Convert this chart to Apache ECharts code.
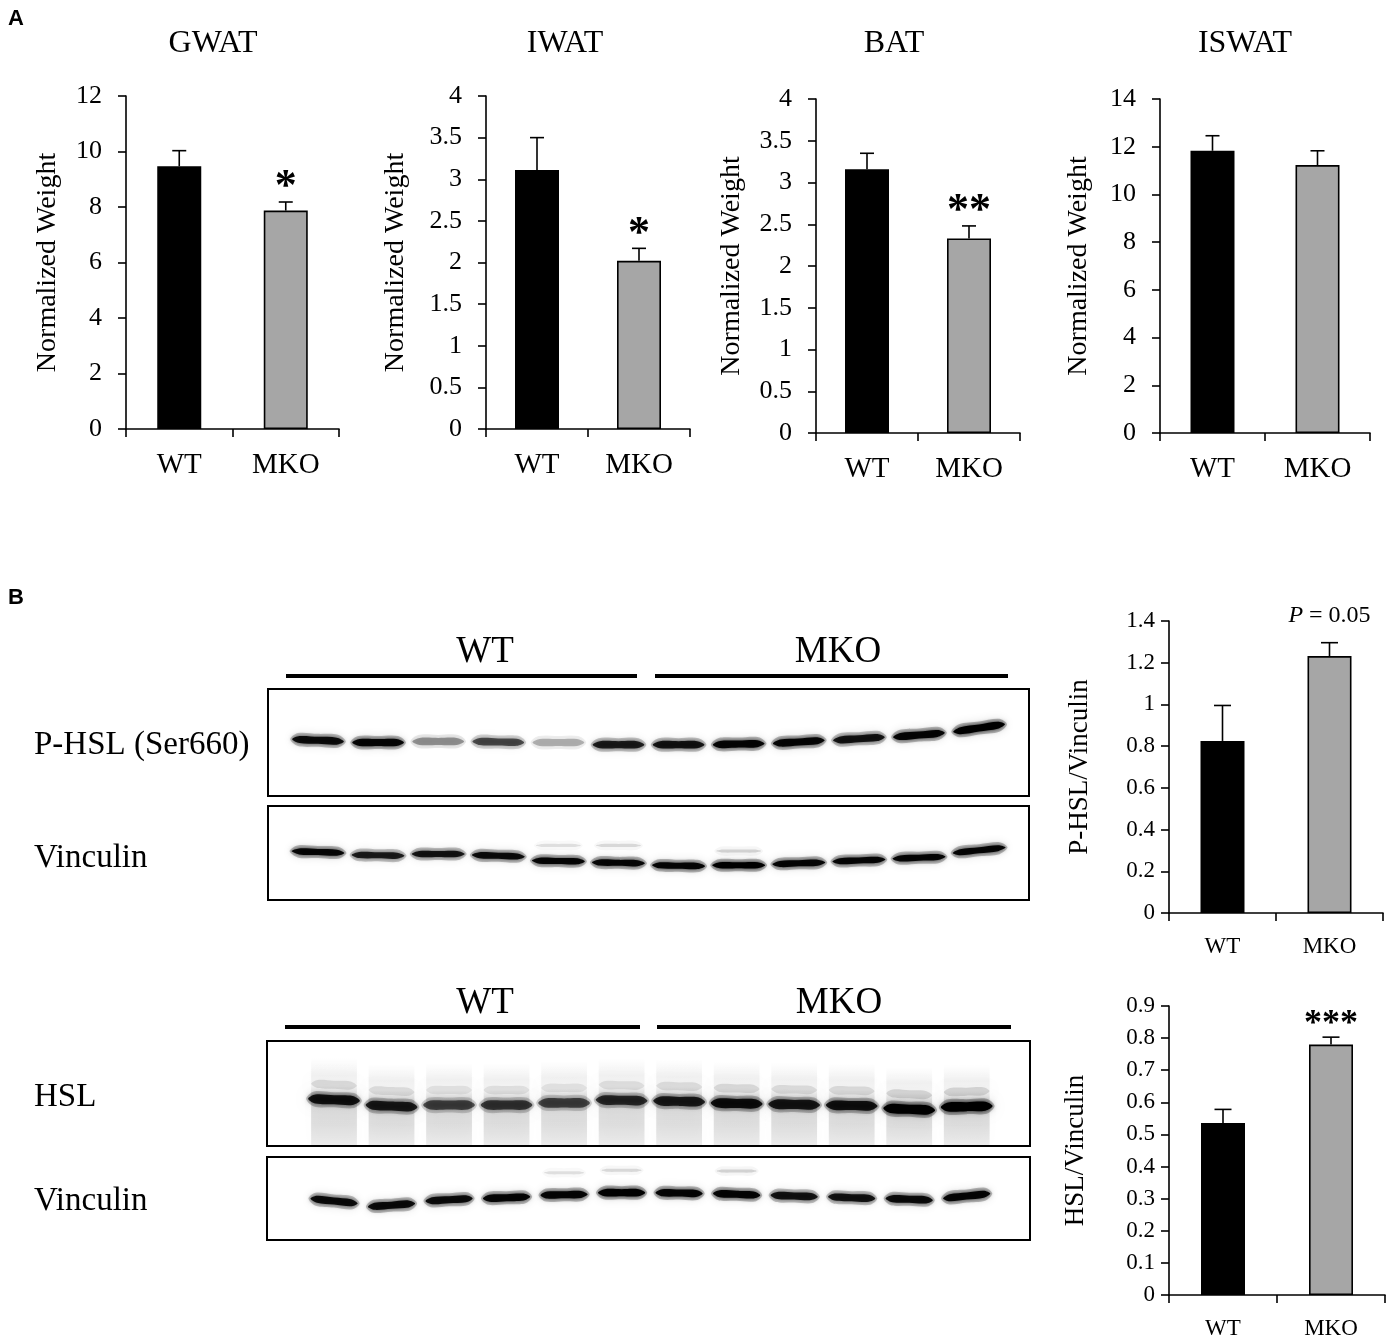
<!DOCTYPE html>
<html>
<head>
<meta charset="utf-8">
<title>Fat depot weights and HSL blots</title>
<script src="https://cdn.jsdelivr.net/npm/echarts@6/dist/echarts.min.js"></script>
<style>
  html, body { margin: 0; padding: 0; background: #fff; }
  #main { width: 1390px; height: 1340px; }
</style>
</head>
<body>
<div id="main"></div>
<script>
var groups = ['WT', 'MKO'];

// panel A: normalized depot weight, mean and mean + SEM
var gwatMean = [9.47, 7.87];
var gwatErr = [10.03, 8.18];
var gwatSig = ['', '*'];
var iwatMean = [3.11, 2.02];
var iwatErr = [3.50, 2.17];
var iwatSig = ['', '*'];
var batMean = [3.16, 2.33];
var batErr = [3.35, 2.48];
var batSig = ['', '**'];
var iswatMean = [11.83, 11.23];
var iswatErr = [12.46, 11.83];
var iswatSig = ['', ''];

// panel B: band quantification
var pHslMean = [0.825, 1.232];
var pHslErr = [0.995, 1.296];
var pHslSig = ['', '{i|P} = 0.05'];
var hslMean = [0.536, 0.78];
var hslErr = [0.578, 0.803];
var hslSig = ['', '***'];

// blots: 12 lanes, band position (% of strip height, left / right end) and darkness
var lanes = [1, 2, 3, 4, 5, 6, 7, 8, 9, 10, 11, 12];
var pHslDark = [0.9, 0.95, 0.35, 0.6, 0.25, 0.8, 0.85, 0.95, 0.95, 0.85, 0.95, 1.0];
var pHslLeft = [47, 50, 49, 49, 50, 52, 52, 52, 51, 48, 45, 40];
var pHslRight = [49, 50, 49, 50, 50, 52, 52, 51, 48, 45, 41, 33];

var vinc1Dark = [0.95, 0.8, 0.85, 0.9, 0.95, 0.95, 0.95, 1, 0.95, 0.95, 0.95, 0.95];
var vinc1Left = [48, 52, 51, 52, 58, 60, 63, 63, 62, 59, 56, 50];
var vinc1Right = [50, 53, 51, 54, 59, 61, 64, 63, 60, 57, 54, 44];
var vinc1FaintLane = [5, 6, 8];
var vinc1FaintPos = [42, 42, 48];
var vinc1FaintDark = [0.1, 0.12, 0.14];

var hslDark = [0.85, 0.8, 0.6, 0.65, 0.6, 0.72, 0.8, 0.88, 0.82, 0.85, 1, 1];
var hslLeft = [55, 61, 61, 61, 59, 56, 57, 59, 60, 61, 64, 63];
var hslRight = [57, 63, 61, 61, 59, 57, 58, 60, 61, 62, 66, 62];

var vinc2Dark = [0.9, 0.9, 0.9, 0.95, 0.95, 1, 0.95, 0.95, 0.85, 0.85, 0.9, 0.95];
var vinc2Left = [50, 60, 53, 50, 46, 43, 43, 44, 46, 48, 50, 50];
var vinc2Right = [56, 56, 50, 48, 45, 43, 44, 46, 48, 50, 52, 44];
var vinc2FaintLane = [5, 6, 8];
var vinc2FaintPos = [19, 16, 17];
var vinc2FaintDark = [0.1, 0.12, 0.14];

var serif = 'Liberation Serif';

var barPanels = [
  { mean: gwatMean, err: gwatErr, sig: gwatSig, max: 12, step: 2, box: [126, 96, 213, 333], name: 'Normalized Weight', gap: 64, big: true },
  { mean: iwatMean, err: iwatErr, sig: iwatSig, max: 4, step: 0.5, box: [486, 96, 204, 333], name: 'Normalized Weight', gap: 76, big: true },
  { mean: batMean, err: batErr, sig: batSig, max: 4, step: 0.5, box: [816, 99, 204, 334], name: 'Normalized Weight', gap: 70, big: true },
  { mean: iswatMean, err: iswatErr, sig: iswatSig, max: 14, step: 2, box: [1160, 99, 210, 334], name: 'Normalized Weight', gap: 67, big: true },
  { mean: pHslMean, err: pHslErr, sig: pHslSig, max: 1.4, step: 0.2, box: [1169, 621, 214, 292], name: 'P-HSL/Vinculin', gap: 76, big: false },
  { mean: hslMean, err: hslErr, sig: hslSig, max: 0.9, step: 0.1, box: [1169, 1006, 216, 294], name: 'HSL/Vinculin', gap: 80, big: false }
];

// blot strips: [left, top, width, height], x range of lane axis, band half width (lanes), thickness px
var strips = [
  { box: [268, 689, 761, 107], xr: [0.168, 12.83], dark: pHslDark, l: pHslLeft, r: pHslRight, half: 0.43, thick: 7 },
  { box: [268, 806, 761, 94], xr: [0.168, 12.83], dark: vinc1Dark, l: vinc1Left, r: vinc1Right, half: 0.44, thick: 6,
    faint: [vinc1FaintLane, vinc1FaintPos, vinc1FaintDark] },
  { box: [267, 1041, 763, 105], xr: [-0.165, 13.1], dark: hslDark, l: hslLeft, r: hslRight, half: 0.45, thick: 9, smear: true },
  { box: [267, 1157, 763, 83], xr: [-0.165, 13.1], dark: vinc2Dark, l: vinc2Left, r: vinc2Right, half: 0.41, thick: 7,
    faint: [vinc2FaintLane, vinc2FaintPos, vinc2FaintDark] }
];

function errorBars(sig, cap, big) {
  return function (params, api) {
    var x = api.value(0);
    var base = api.coord([x, api.value(1)]);
    var tip = api.coord([x, api.value(2)]);
    var kids = [
      { type: 'line', shape: { x1: base[0], y1: base[1], x2: tip[0], y2: tip[1] }, style: { stroke: '#000', lineWidth: 1.6 } },
      { type: 'line', shape: { x1: tip[0] - cap / 2, y1: tip[1], x2: tip[0] + cap / 2, y2: tip[1] }, style: { stroke: '#000', lineWidth: 1.6 } }
    ];
    var s = sig[params.dataIndex];
    if (s) {
      var isStar = s.indexOf('*') === 0;
      kids.push({
        type: 'text',
        x: tip[0],
        y: tip[1] - (isStar ? (big ? 14 : 12) : 27),
        style: {
          text: s,
          fill: '#000',
          fontFamily: serif,
          fontSize: isStar ? (big ? 44 : 36) : 24,
          fontWeight: isStar ? 'bold' : 'normal',
          align: 'center',
          verticalAlign: 'middle',
          rich: { i: { fontStyle: 'italic', fontFamily: serif, fontSize: 24 } }
        }
      });
    }
    return { type: 'group', children: kids };
  };
}

function lens(xl, yl, xr, yr, t) {
  var w = xr - xl, a = 0.14;
  var ya = yl + (yr - yl) * a, yb = yr - (yr - yl) * a;
  var xm = (xl + xr) / 2, ym = (yl + yr) / 2;
  return [[xl, yl], [xl + w * a, ya - t], [xm, ym - t], [xr - w * a, yb - t], [xr, yr],
          [xr - w * a, yb + t], [xm, ym + t], [xl + w * a, ya + t]];
}

function bands(half, thick, smear) {
  return function (params, api) {
    var lane = api.value(0);
    var k = api.value(3);
    var pl = api.coord([lane - half, api.value(1)]);
    var pr = api.coord([lane + half, api.value(2)]);
    var t = thick / 2;
    var kids = [];
    if (smear) {
      var bottom = api.coord([lane, 100])[1];
      var mid = (pl[1] + pr[1]) / 2;
      kids.push({
        type: 'rect',
        shape: { x: pl[0] + 3, y: mid - 42, width: pr[0] - pl[0] - 6, height: bottom - mid + 42 },
        style: {
          fill: new echarts.graphic.LinearGradient(0, 0, 0, 1, [
            { offset: 0, color: 'rgba(0,0,0,0)' },
            { offset: 0.2, color: 'rgba(0,0,0,0.05)' },
            { offset: 0.32, color: 'rgba(0,0,0,0.04)' },
            { offset: 0.45, color: 'rgba(0,0,0,0.13)' },
            { offset: 0.75, color: 'rgba(0,0,0,0.12)' },
            { offset: 1, color: 'rgba(0,0,0,0.07)' }
          ]),
          shadowBlur: 10, shadowColor: 'rgba(0,0,0,0.12)'
        }
      });
      kids.push({
        type: 'polygon',
        shape: { points: lens(pl[0] + 3, pl[1] - 15, pr[0] - 3, pr[1] - 15, 4), smooth: 0.3 },
        style: { fill: 'rgba(0,0,0,' + (0.12 * k).toFixed(3) + ')', shadowBlur: 8, shadowColor: 'rgba(0,0,0,0.12)' }
      });
    }
    kids.push({
      type: 'polygon',
      shape: { points: lens(pl[0] - 2, pl[1], pr[0] + 2, pr[1], t + 3), smooth: 0.3 },
      style: { fill: 'rgba(0,0,0,' + (0.25 * k).toFixed(3) + ')', shadowBlur: 10, shadowColor: 'rgba(0,0,0,' + (0.4 * k).toFixed(3) + ')' }
    });
    kids.push({
      type: 'polygon',
      shape: { points: lens(pl[0], pl[1], pr[0], pr[1], t), smooth: 0.3 },
      style: { fill: 'rgba(0,0,0,' + k + ')', shadowBlur: 4, shadowColor: 'rgba(0,0,0,' + (0.8 * k).toFixed(3) + ')' }
    });
    return { type: 'group', children: kids };
  };
}

var grid = [], xAxis = [], yAxis = [], series = [];

barPanels.forEach(function (p, i) {
  grid.push({ left: p.box[0], top: p.box[1], width: p.box[2], height: p.box[3] });
  xAxis.push({
    gridIndex: i, type: 'category', data: groups,
    axisLine: { lineStyle: { color: '#000', width: 1.6 } },
    axisTick: { show: true, length: 8, lineStyle: { color: '#000', width: 1.6 } },
    axisLabel: { color: '#000', fontFamily: serif, fontSize: p.big ? 29 : 23, margin: p.big ? 22 : 22 }
  });
  yAxis.push({
    gridIndex: i, type: 'value', min: 0, max: p.max, interval: p.step,
    name: p.name, nameLocation: 'middle', nameGap: p.gap, nameMoveOverlap: false,
    nameTextStyle: { color: '#000', fontFamily: serif, fontSize: p.big ? 28 : 27 },
    axisLine: { show: true, lineStyle: { color: '#000', width: 1.6 } },
    axisTick: { show: true, length: 8, lineStyle: { color: '#000', width: 1.6 } },
    axisLabel: { color: '#000', fontFamily: serif, fontSize: p.big ? 26 : 23, margin: p.big ? 24 : 14 },
    splitLine: { show: false }
  });
  series.push({
    type: 'bar', xAxisIndex: i, yAxisIndex: i, barWidth: 44, silent: true,
    data: p.mean.map(function (v, j) {
      return {
        value: v,
        itemStyle: { color: j === 0 ? '#000' : '#a6a6a6', borderColor: '#000', borderWidth: 1.6 }
      };
    })
  });
  series.push({
    type: 'custom', xAxisIndex: i, yAxisIndex: i, silent: true, z: 5,
    renderItem: errorBars(p.sig, p.big ? 14 : 17, p.big),
    data: p.mean.map(function (v, j) { return [j, v, p.err[j]]; })
  });
});

strips.forEach(function (s) {
  var gi = grid.length;
  grid.push({ left: s.box[0], top: s.box[1], width: s.box[2], height: s.box[3], show: true, borderColor: '#000', borderWidth: 2, backgroundColor: '#fff' });
  xAxis.push({ gridIndex: gi, type: 'value', min: s.xr[0], max: s.xr[1], show: false });
  yAxis.push({ gridIndex: gi, type: 'value', min: 0, max: 100, inverse: true, show: false });
  var data = lanes.map(function (ln, j) { return [ln, s.l[j], s.r[j], s.dark[j]]; });
  series.push({
    type: 'custom', xAxisIndex: gi, yAxisIndex: gi, silent: true, clip: true,
    renderItem: bands(s.half, s.thick, s.smear), data: data
  });
  if (s.faint) {
    series.push({
      type: 'custom', xAxisIndex: gi, yAxisIndex: gi, silent: true, clip: true,
      renderItem: bands(s.half * 0.85, 3, false),
      data: s.faint[0].map(function (ln, j) { return [ln, s.faint[1][j], s.faint[1][j], s.faint[2][j]]; })
    });
  }
});

function label(text, x, y, size, align, extra) {
  var st = { text: text, fill: '#000', fontFamily: serif, fontSize: size, align: align || 'center', verticalAlign: 'middle' };
  if (extra) for (var k in extra) st[k] = extra[k];
  return { type: 'text', x: x, y: y, style: st, silent: true };
}
function bar(x1, x2, y) {
  return { type: 'rect', shape: { x: x1, y: y - 2, width: x2 - x1, height: 4 }, style: { fill: '#000' }, silent: true };
}

var graphic = [
  label('A', 8, 19, 22, 'left', { fontFamily: 'Liberation Sans', fontWeight: 'bold' }),
  label('B', 8, 598, 22, 'left', { fontFamily: 'Liberation Sans', fontWeight: 'bold' }),
  label('GWAT', 213, 44, 32),
  label('IWAT', 565, 44, 32),
  label('BAT', 894, 44, 32),
  label('ISWAT', 1245, 44, 32),
  label('WT', 485, 652, 37),
  label('MKO', 838, 652, 37),
  bar(286, 637, 676),
  bar(655, 1008, 676),
  label('WT', 485, 1003, 37),
  label('MKO', 839, 1003, 37),
  bar(285, 640, 1027),
  bar(657, 1011, 1027),
  label('P-HSL (Ser660)', 34, 745, 33, 'left'),
  label('Vinculin', 34, 858, 33, 'left'),
  label('HSL', 34, 1097, 33, 'left'),
  label('Vinculin', 34, 1201, 33, 'left')
];

var chart = echarts.init(document.getElementById('main'));
chart.setOption({
  animation: false,
  backgroundColor: '#fff',
  grid: grid,
  xAxis: xAxis,
  yAxis: yAxis,
  series: series,
  graphic: graphic
});
</script>
</body>
</html>
